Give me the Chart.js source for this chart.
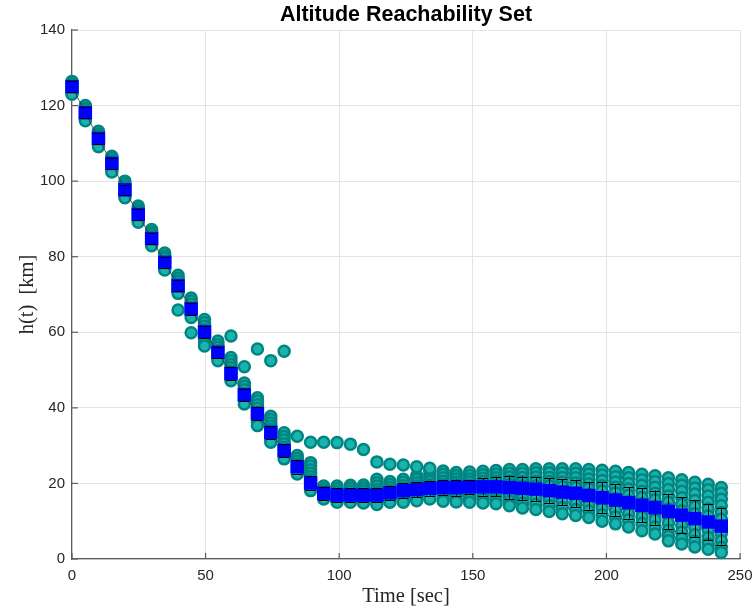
<!DOCTYPE html>
<html>
<head>
<meta charset="utf-8">
<title>Altitude Reachability Set</title>
<script src="https://cdn.jsdelivr.net/npm/chart.js@4.4.1/dist/chart.umd.min.js"></script>
<style>
  html, body { margin: 0; padding: 0; background: #ffffff; }
  #chart { display: block; }
</style>
</head>
<body>
<canvas id="chart" width="753" height="611"></canvas>
<script>
// Time stamps of each reachability snapshot [sec]
const timeSec = [0, 5.0, 9.9, 14.9, 19.8, 24.8, 29.8, 34.7, 39.7, 44.6,
  49.6, 54.6, 59.5, 64.5, 69.4, 74.4, 79.4, 84.3, 89.3, 94.2,
  99.2, 104.2, 109.1, 114.1, 119.0, 124.0, 129.0, 133.9, 138.9, 143.8,
  148.8, 153.8, 158.7, 163.7, 168.6, 173.6, 178.6, 183.5, 188.5, 193.4,
  198.4, 203.4, 208.3, 213.3, 218.2, 223.2, 228.2, 233.1, 238.1, 243.0];

// Mean altitude at each snapshot [km]
const meanAlt = [125.0, 118.1, 111.3, 104.7, 97.7, 91.2, 84.8, 78.5, 72.3, 66.2,
  60.1, 54.7, 49.1, 43.5, 38.5, 33.5, 28.7, 24.4, 20.1, 17.4,
  16.9, 16.9, 16.9, 16.9, 17.5, 18.1, 18.4, 18.7, 18.9, 18.9,
  19.1, 19.1, 19.1, 18.9, 18.7, 18.5, 18.1, 17.7, 17.4, 16.8,
  16.2, 15.6, 14.9, 14.2, 13.6, 12.6, 11.6, 10.7, 9.8, 8.7];

// One standard deviation of altitude at each snapshot [km]
const stdAlt = [1.4, 1.4, 1.4, 1.4, 1.4, 1.4, 1.4, 1.4, 1.5, 1.6,
  1.6, 1.5, 1.6, 1.6, 1.7, 1.7, 1.8, 1.8, 1.8, 1.7,
  1.8, 1.8, 1.8, 1.9, 1.9, 1.9, 2.0, 2.0, 2.0, 2.1,
  1.8, 2.3, 2.5, 3.1, 3.1, 3.2, 3.3, 3.5, 3.6, 3.7,
  4.1, 4.2, 4.2, 4.5, 4.5, 4.7, 4.7, 4.8, 4.8, 4.9];

// Individual trajectory altitudes at each snapshot [km]
const altSamples = [
  [126.4, 125.8, 125.2, 124.6, 124.0, 123.4, 123.0],
  [120.0, 119.3, 118.6, 117.9, 117.2, 116.6, 116.0],
  [113.2, 112.5, 111.8, 111.1, 110.4, 109.7, 109.1],
  [106.6, 105.9, 105.2, 104.5, 103.8, 103.1, 102.4],
  [100.0, 99.3, 98.5, 97.8, 97.0, 96.3, 95.6],
  [93.4, 92.7, 92.0, 91.2, 90.5, 89.8, 89.1],
  [87.2, 86.5, 85.8, 85.0, 84.3, 83.6, 82.9],
  [81.0, 80.2, 79.5, 78.7, 78.0, 77.2, 76.5],
  [75.1, 74.3, 73.5, 72.7, 71.9, 71.1, 70.3, 65.9],
  [69.1, 68.3, 67.4, 66.5, 65.6, 64.7, 63.9, 59.9],
  [63.4, 62.5, 61.6, 60.7, 59.8, 58.9, 58.0, 57.2, 56.4],
  [57.7, 56.8, 56.0, 55.1, 54.2, 53.4, 52.5],
  [53.3, 52.4, 51.5, 50.6, 49.7, 48.9, 48.0, 47.2, 59.0],
  [46.6, 45.7, 44.8, 43.8, 42.9, 41.9, 41.0, 50.9],
  [42.7, 41.8, 40.8, 39.9, 38.9, 38.0, 37.1, 36.2, 35.3, 55.6],
  [37.8, 36.9, 36.0, 35.1, 34.3, 33.4, 32.6, 31.7, 30.9, 52.5],
  [33.4, 32.4, 31.5, 30.5, 29.6, 28.6, 27.6, 26.5, 55.0],
  [27.4, 26.6, 25.8, 25.0, 24.2, 23.4, 22.5, 32.5],
  [25.5, 24.6, 23.6, 22.7, 21.8, 20.9, 19.9, 19.0, 18.1, 30.9],
  [19.3, 18.6, 17.9, 17.3, 16.6, 15.9, 30.9],
  [19.3, 18.6, 17.8, 17.0, 16.2, 15.5, 15.0, 30.8],
  [19.5, 18.8, 18.0, 17.2, 16.4, 15.6, 15.0, 30.4],
  [19.6, 18.8, 18.0, 17.2, 16.4, 15.6, 14.8, 29.0],
  [21.1, 20.2, 19.3, 18.4, 17.6, 16.7, 15.8, 15.0, 14.4, 25.7],
  [20.5, 19.7, 18.9, 18.1, 17.3, 16.5, 15.7, 15.0, 25.1],
  [21.1, 20.3, 19.4, 18.6, 17.7, 16.9, 16.0, 15.0, 24.9],
  [22.0, 21.1, 20.2, 19.3, 18.4, 17.5, 16.6, 15.8, 15.4, 24.4],
  [23.3, 22.3, 21.4, 20.5, 19.6, 18.6, 17.7, 16.8, 15.9, 24.0],
  [23.3, 22.4, 21.5, 20.6, 19.7, 18.8, 17.9, 17.0, 16.1, 15.3],
  [22.9, 22.0, 21.2, 20.3, 19.5, 18.6, 17.7, 16.8, 15.9, 15.1],
  [23.0, 22.1, 21.2, 20.4, 19.5, 18.6, 17.7, 16.8, 15.9, 15.0],
  [23.2, 22.3, 21.4, 20.5, 19.6, 18.6, 17.7, 16.7, 15.8, 14.8],
  [23.4, 22.5, 21.5, 20.6, 19.6, 18.6, 17.6, 16.6, 15.6, 14.6],
  [23.7, 22.7, 21.7, 20.7, 19.7, 18.7, 17.6, 16.5, 15.3, 14.1],
  [23.7, 22.7, 21.6, 20.5, 19.4, 18.3, 17.2, 16.0, 14.8, 13.5],
  [23.9, 22.8, 21.7, 20.6, 19.4, 18.3, 17.1, 15.8, 14.5, 13.1],
  [23.9, 22.8, 21.6, 20.5, 19.3, 18.1, 16.8, 15.5, 14.1, 12.6],
  [23.9, 22.8, 21.6, 20.4, 19.1, 17.8, 16.5, 15.1, 13.6, 12.0],
  [23.9, 22.7, 21.5, 20.2, 18.9, 17.5, 16.1, 14.6, 13.1, 11.5],
  [23.7, 22.5, 21.2, 19.9, 18.6, 17.2, 15.8, 14.3, 12.7, 11.0],
  [23.5, 22.2, 20.8, 19.4, 18.0, 16.5, 15.0, 13.4, 11.7, 10.0],
  [23.2, 21.8, 20.4, 19.0, 17.5, 16.0, 14.4, 12.8, 11.1, 9.3],
  [22.9, 21.5, 20.0, 18.5, 16.9, 15.3, 13.7, 12.0, 10.3, 8.5],
  [22.4, 21.0, 19.5, 17.9, 16.3, 14.7, 13.0, 11.2, 9.4, 7.5],
  [22.0, 20.5, 19.0, 17.4, 15.7, 14.0, 12.2, 10.4, 8.5, 6.6],
  [21.5, 20.0, 18.4, 16.7, 15.0, 13.2, 11.4, 9.5, 7.6, 6.0, 4.8],
  [21.0, 19.5, 17.9, 16.2, 14.5, 12.7, 10.9, 9.0, 7.1, 5.4, 4.0],
  [20.3, 18.8, 17.2, 15.5, 13.8, 12.0, 10.2, 8.3, 6.4, 4.7, 3.2],
  [19.8, 18.3, 16.7, 15.0, 13.2, 11.4, 9.5, 7.6, 5.7, 4.0, 2.6],
  [18.9, 17.4, 15.8, 14.1, 12.3, 10.5, 8.6, 6.7, 4.8, 3.1, 1.7]
];

// Axis tick values
const xTicks = [0, 50, 100, 150, 200, 250];
const yTicks = [0, 20, 40, 60, 80, 100, 120, 140];

const CHART_TITLE = 'Altitude Reachability Set';

// ---- build point tables for the library ----
const samplePoints = [];
timeSec.forEach((t, i) => {
  altSamples[i].forEach(h => samplePoints.push({ x: t, y: h }));
});
const meanPoints = timeSec.map((t, i) => ({ x: t, y: meanAlt[i] }));

const AXIS_COLOR = '#5c5c5c';
const TICK_FONT = { family: '"Liberation Sans", Arial, Helvetica, sans-serif', size: 15 };
const LABEL_FONT = { family: '"Liberation Serif", "Times New Roman", serif', size: 20.5 };
const MEAN_LINE_INDEX = 1;

// error bars: stems below the mean markers, caps above them
const errorBars = {
  id: 'errorBars',
  afterDatasetDraw(chart, args) {
    if (args.index !== MEAN_LINE_INDEX) return;
    const { ctx, scales: { x, y } } = chart;
    ctx.save();
    ctx.strokeStyle = '#000000';
    ctx.lineWidth = 1;
    timeSec.forEach((t, i) => {
      const px = Math.round(x.getPixelForValue(t)) + 0.5;
      ctx.beginPath();
      ctx.moveTo(px, y.getPixelForValue(meanAlt[i] + stdAlt[i]));
      ctx.lineTo(px, y.getPixelForValue(meanAlt[i] - stdAlt[i]));
      ctx.stroke();
    });
    ctx.restore();
  },
  afterDatasetsDraw(chart) {
    const { ctx, scales: { x, y } } = chart;
    ctx.save();
    ctx.strokeStyle = '#000000';
    ctx.lineWidth = 1;
    timeSec.forEach((t, i) => {
      const px = x.getPixelForValue(t);
      [meanAlt[i] + stdAlt[i], meanAlt[i] - stdAlt[i]].forEach(v => {
        const py = Math.round(y.getPixelForValue(v)) + 0.5;
        ctx.beginPath();
        ctx.moveTo(px - 5, py);
        ctx.lineTo(px + 5, py);
        ctx.stroke();
      });
    });
    ctx.restore();
  }
};

// inward tick marks on the left and bottom axes, title centred over the axes
const axesDecor = {
  id: 'axesDecor',
  afterDraw(chart) {
    const { ctx, chartArea, scales: { x, y } } = chart;
    ctx.save();
    ctx.strokeStyle = AXIS_COLOR;
    ctx.lineWidth = 1.2;
    xTicks.forEach(v => {
      const px = x.getPixelForValue(v);
      ctx.beginPath();
      ctx.moveTo(px, chartArea.bottom);
      ctx.lineTo(px, chartArea.bottom - 6);
      ctx.stroke();
    });
    yTicks.forEach(v => {
      const py = y.getPixelForValue(v);
      ctx.beginPath();
      ctx.moveTo(chartArea.left, py);
      ctx.lineTo(chartArea.left + 6, py);
      ctx.stroke();
    });
    ctx.fillStyle = '#000000';
    ctx.font = 'bold 21.5px "Liberation Sans", Arial, Helvetica, sans-serif';
    ctx.textAlign = 'center';
    ctx.textBaseline = 'middle';
    ctx.fillText(CHART_TITLE, (chartArea.left + chartArea.right) / 2, 15);
    ctx.restore();
  }
};

new Chart(document.getElementById('chart'), {
  type: 'scatter',
  data: {
    datasets: [
      {
        label: 'mean',
        data: meanPoints,
        pointStyle: 'rect',
        pointRadius: 9.5,
        backgroundColor: '#0000ff',
        borderColor: '#0000ff',
        borderWidth: 0,
        clip: false,
        order: 1
      },
      {
        label: 'mean line',
        data: meanPoints,
        showLine: true,
        borderColor: '#333333',
        borderWidth: 0.8,
        pointRadius: 0,
        clip: false,
        order: 2
      },
      {
        label: 'trajectories',
        data: samplePoints,
        pointStyle: 'circle',
        pointRadius: 5.5,
        backgroundColor: '#1ab3ae',
        borderColor: '#008581',
        borderWidth: 2.5,
        clip: false,
        order: 3
      }
    ]
  },
  options: {
    responsive: false,
    devicePixelRatio: 1,
    animation: false,
    events: [],
    layout: { padding: { left: 0, right: 13, top: 30, bottom: 0 } },
    plugins: {
      legend: { display: false },
      tooltip: { enabled: false },
      title: { display: false }
    },
    scales: {
      x: {
        type: 'linear',
        min: 0,
        max: 250,
        afterBuildTicks(scale) { scale.ticks = xTicks.map(v => ({ value: v })); },
        afterFit(scale) {
          scale.height = 52;
          scale.paddingLeft = 0;
          scale.paddingRight = 0;
        },
        ticks: { color: '#262626', font: TICK_FONT, padding: 8, maxRotation: 0 },
        grid: { color: '#e4e4e4', lineWidth: 1, drawTicks: false },
        border: { color: AXIS_COLOR, width: 1.2 },
        title: {
          display: true,
          text: 'Time [sec]',
          color: '#262626',
          font: LABEL_FONT,
          padding: { top: 0, bottom: 2 }
        }
      },
      y: {
        type: 'linear',
        min: 0,
        max: 140,
        afterBuildTicks(scale) { scale.ticks = yTicks.map(v => ({ value: v })); },
        afterFit(scale) {
          scale.width = 72;
          scale.paddingTop = 0;
          scale.paddingBottom = 0;
        },
        ticks: { color: '#262626', font: TICK_FONT, padding: 7 },
        grid: { color: '#e4e4e4', lineWidth: 1, drawTicks: false },
        border: { color: AXIS_COLOR, width: 1.2 },
        title: {
          display: true,
          text: 'h(t)  [km]',
          color: '#262626',
          font: LABEL_FONT,
          padding: { top: 15, bottom: 0 }
        }
      }
    }
  },
  plugins: [errorBars, axesDecor]
});
</script>
</body>
</html>
